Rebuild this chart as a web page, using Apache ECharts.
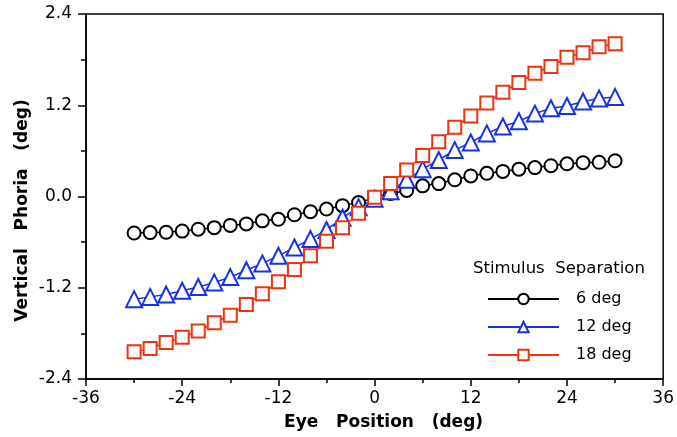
<!DOCTYPE html>
<html><head><meta charset="utf-8">
<script src="https://cdn.jsdelivr.net/npm/echarts@6/dist/echarts.min.js"></script>
<style>html,body{margin:0;padding:0;background:#fff}#c{width:677px;height:437px}</style>
</head><body><div id="c"></div>
<script>
const eyePos = [-30,-28,-26,-24,-22,-20,-18,-16,-14,-12,-10,-8,-6,-4,-2,0,2,4,6,8,10,12,14,16,18,20,22,24,26,28,30];
const sep6  = [-0.48,-0.475,-0.47,-0.455,-0.43,-0.41,-0.38,-0.36,-0.32,-0.30,-0.24,-0.20,-0.165,-0.12,-0.08,-0.02,0.04,0.08,0.14,0.17,0.22,0.27,0.305,0.33,0.36,0.38,0.405,0.43,0.445,0.45,0.47];
const sep12 = [-1.35,-1.32,-1.29,-1.24,-1.19,-1.13,-1.06,-0.97,-0.88,-0.78,-0.67,-0.56,-0.44,-0.28,-0.14,-0.03,0.07,0.22,0.36,0.48,0.61,0.71,0.83,0.92,0.99,1.09,1.16,1.19,1.25,1.29,1.31];
const sep18 = [-2.04,-2.00,-1.92,-1.85,-1.77,-1.66,-1.56,-1.42,-1.28,-1.12,-0.96,-0.78,-0.59,-0.41,-0.22,-0.01,0.17,0.35,0.54,0.72,0.91,1.06,1.23,1.37,1.50,1.62,1.71,1.83,1.89,1.97,2.01];
const names = ['6 deg','12 deg','18 deg'];
const xTicks = {min:-36,max:36,step:12};
const yTicks = {min:-2.4,max:2.4,step:1.2};

const font = 'DejaVu Sans';
function pts(ys){return eyePos.map((x,i)=>[x,ys[i]]);}
function mk(name, ys, color, symbol, size){
  return {name, type:'line', data:pts(ys), symbol, symbolSize:size,
    lineStyle:{color, width:1.5}, itemStyle:{color:'#fff', borderColor:color, borderWidth:2},
    emphasis:{disabled:true}, animation:false};
}
function axis(t, name, gap, tickLen, minorLen, margin, namePad, fmt){
  const a = {type:'value',min:t.min,max:t.max,interval:t.step,
    name:name,nameLocation:'middle',nameGap:gap,
    nameTextStyle:{fontFamily:font,fontWeight:'bold',fontSize:17,color:'#000',padding:namePad},
    axisLine:{onZero:false,lineStyle:{color:'#000',width:1.5}},
    axisTick:{show:true,length:tickLen,lineStyle:{color:'#000',width:1.5}},
    minorTick:{show:true,splitNumber:2,length:minorLen,lineStyle:{color:'#000',width:1.5}},
    splitLine:{show:false},
    axisLabel:{show:true,color:'#000',fontSize:17,fontFamily:font,margin:margin}};
  if (fmt) a.axisLabel.formatter = fmt;
  return a;
}
const chart = echarts.init(document.getElementById('c'), null, {renderer:'canvas'});
chart.setOption({
  backgroundColor:'#fff',
  animation:false,
  textStyle:{fontFamily:font},
  grid:{left:86,right:9,top:14,bottom:58,show:true,borderColor:'#000',borderWidth:1.5,backgroundColor:'transparent'},
  xAxis:axis(xTicks,'Eye   Position   (deg)',35,7,4,11,[0,0,0,18],null),
  yAxis:Object.assign(axis(yTicks,'Vertical   Phoria   (deg)',55,8,5,14,[0,28,0,0],v=>v.toFixed(1)),{nameRotate:90,nameMoveOverlap:false}),
  legend:{orient:'vertical',left:482,top:286,itemWidth:71,itemHeight:13,itemGap:12,
    textStyle:{fontFamily:font,fontSize:16,color:'#000',padding:[0,0,0,12]},
    data:names},
  graphic:[{type:'text',left:473,top:260,style:{text:'Stimulus  Separation',font:'16.5px "DejaVu Sans"',fill:'#000'}}],
  series:[
    mk(names[0],sep6,'#000','circle',13),
    mk(names[1],sep12,'#1432e6','triangle',16),
    mk(names[2],sep18,'#ee3311','rect',13)
  ]
});
</script></body></html>
